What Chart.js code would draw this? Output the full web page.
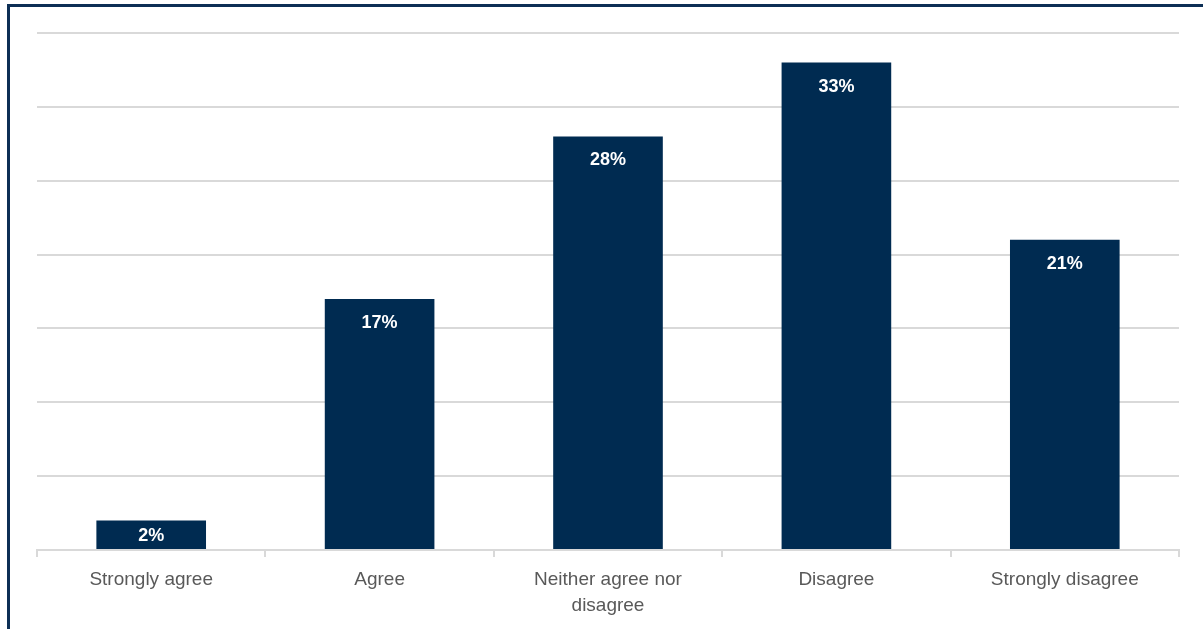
<!DOCTYPE html>
<html>

<head>
    <meta charset="utf-8">
    <title>Survey Responses</title>
    <script src="https://cdn.jsdelivr.net/npm/chart.js"></script>
    <style>
        body {
            margin: 0;
            background: #fff;
        }

        #frame {
            position: absolute;
            left: 7px;
            top: 4px;
            width: 1196px;
            height: 625px;
            border-left: 3px solid #0d2f55;
            border-top: 3px solid #0d2f55;
        }

        #frame canvas {
            display: block;
        }
    </style>
</head>

<body>
    <div id="frame">
        <canvas id="barChart" width="1193" height="622"></canvas>
    </div>

    <script>
        const categories = ['Strongly agree', 'Agree', ['Neither agree nor', 'disagree'], 'Disagree', 'Strongly disagree'];
        const shares = [2, 17, 28, 33, 21];

        const navy = '#002b51';
        const gridGrey = '#d9d9d9';

        // white % labels inside the top of each bar
        const barLabels = {
            id: 'barLabels',
            afterDatasetsDraw(chart) {
                const ctx = chart.ctx;
                const meta = chart.getDatasetMeta(0);
                ctx.save();
                ctx.fillStyle = '#ffffff';
                ctx.font = 'bold 18px "Liberation Sans", Arial, sans-serif';
                ctx.textAlign = 'center';
                ctx.textBaseline = 'middle';
                meta.data.forEach((bar, i) => {
                    // small bars: keep the label centred inside the bar
                    const y = Math.min(bar.y + 24, (bar.y + bar.base) / 2 + 1);
                    ctx.fillText(shares[i] + '%', bar.x, y);
                });
                ctx.restore();
            }
        };

        const ctx = document.getElementById('barChart').getContext('2d');
        const barChart = new Chart(ctx, {
            type: 'bar',
            data: {
                labels: categories,
                datasets: [{
                    data: shares,
                    backgroundColor: navy,
                    categoryPercentage: 0.48,
                    barPercentage: 1
                }]
            },
            options: {
                responsive: false,
                animation: false,
                layout: {
                    padding: { left: 27, right: 24, top: 26, bottom: 0 }
                },
                plugins: {
                    legend: { display: false },
                    tooltip: { enabled: false }
                },
                scales: {
                    x: {
                        offset: true,
                        grid: {
                            offset: true,
                            drawOnChartArea: false,
                            color: gridGrey,
                            lineWidth: 2,
                            tickLength: 7
                        },
                        border: { color: gridGrey, width: 2 },
                        ticks: {
                            color: '#595959',
                            font: { family: '"Liberation Sans", Arial, sans-serif', size: 19, lineHeight: 1.37 },
                            padding: 10,
                            maxRotation: 0,
                            autoSkip: false
                        },
                        afterFit(scale) {
                            scale.height = 79;
                        }
                    },
                    y: {
                        min: 0,
                        max: 35,
                        ticks: { stepSize: 5, display: false },
                        grid: { color: gridGrey, lineWidth: 2, drawTicks: false },
                        border: { display: false },
                        afterFit(scale) {
                            scale.width = 0;
                        }
                    }
                }
            },
            plugins: [barLabels]
        });
    </script>
</body>

</html>
